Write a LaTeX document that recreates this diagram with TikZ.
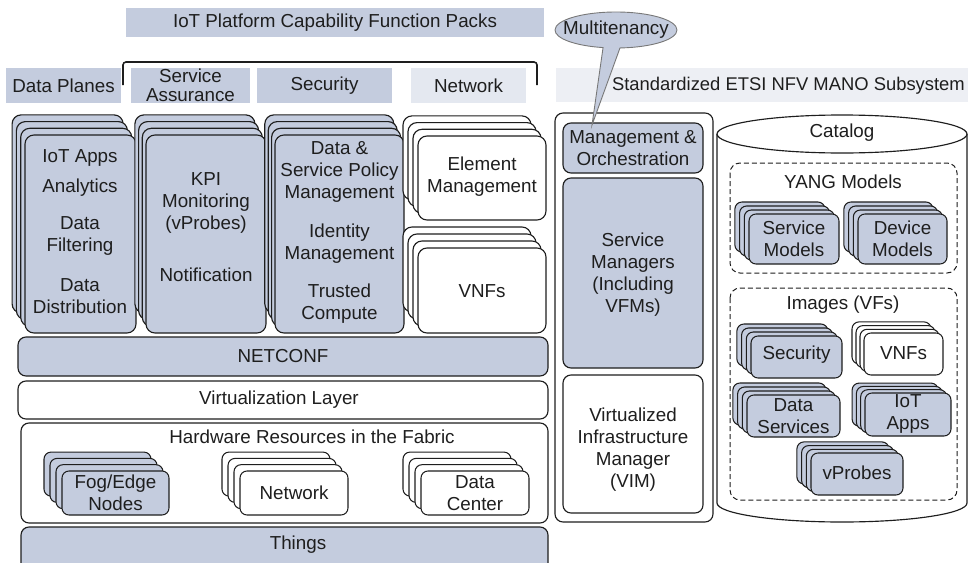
\documentclass[tikz,border=0pt]{standalone}
\usepackage{fontspec}
\setmainfont{Liberation Sans}
\usetikzlibrary{shapes.callouts,shapes.geometric}

\definecolor{pack}{RGB}{196,204,222}
\definecolor{packlight}{RGB}{228,232,240}
\definecolor{manolight}{RGB}{237,239,244}
\definecolor{ink}{RGB}{30,30,30}
\definecolor{calloutline}{RGB}{120,120,120}

\tikzset{
  card/.style={draw=ink, line width=1.15pt, rounded corners=9pt},
  smallcard/.style={draw=ink, line width=1.05pt, rounded corners=7pt},
  layer/.style={draw=ink, line width=1.15pt, rounded corners=8pt},
  dashbox/.style={draw=ink, line width=1pt, dash pattern=on 5pt off 3pt, rounded corners=10pt},
  lbl/.style={font=\fontsize{18.8}{22}\selectfont, align=center, inner sep=0pt, text=ink},
  hdr/.style={lbl, minimum height=35pt, inner sep=0pt},
}

% stack of four cards: style, front card corners x1,y1,x2,y2, step back dx,dy
\newcommand\cardstack[7]{%
  \foreach \k in {3,2,1,0}{%
    \draw[#1] ({#2-\k*#6},{#3-\k*#7}) rectangle ({#4-\k*#6},{#5-\k*#7});
  }%
}

\begin{document}
\begin{tikzpicture}[x=1pt,y=-1pt]
\useasboundingbox (0,0) rectangle (968,562);
\clip (0,0) rectangle (968,562);

% ---------- headings ----------
\node[hdr, fill=pack, minimum width=418pt, minimum height=29pt] (title) at (335,22.5) {IoT Platform Capability Function Packs};

\coordinate (brA) at (123,85);
\coordinate (brB) at (123,62);
\coordinate (brC) at (537,62);
\coordinate (brD) at (537,85);
\draw[line width=1.6pt, rounded corners=3pt, ink] (brA) -- (brB) -- (brC) -- (brD);

\node[hdr, fill=pack, minimum width=115pt] (hdata) at (63.5,85.5) {Data Planes};
\node[hdr, fill=pack, minimum width=119pt] (hsa) at (190.5,85.5) {Service\\[-3pt]Assurance};
\node[hdr, fill=pack, minimum width=135pt] (hsec) at (324.5,85.5) {Security};
\node[hdr, fill=packlight, minimum width=115pt] (hnet) at (468.5,85.5) {Network};
\fill[manolight] (556,68) rectangle (968,102);
\node[lbl, anchor=east, font=\fontsize{18.4}{22}\selectfont] (hmano) at (965,85.5) {Standardized ETSI NFV MANO Subsystem};

% ---------- capability columns ----------
\cardstack{card,fill=pack}{25}{135}{136}{333}{4.3}{6.7}
\node[lbl] (c1a) at (80,158) {IoT Apps};
\node[lbl] (c1b) at (80,188) {Analytics};
\node[lbl] (c1c) at (80,236) {Data\\Filtering};
\node[lbl] (c1d) at (80,296) {Data\\Distribution};

\cardstack{card,fill=pack}{146}{135}{266}{333}{3.7}{6.7}
\node[lbl] (c2a) at (206,203) {KPI\\Monitoring\\(vProbes)};
\node[lbl] (c2b) at (206,275) {Notification};

\cardstack{card,fill=pack}{275}{135}{404}{333}{3.4}{6.7}
\node[lbl] (c3a) at (339.5,172) {Data \&\\Service Policy\\Management};
\node[lbl] (c3b) at (339.5,244) {Identity\\Management};
\node[lbl] (c3c) at (339.5,304) {Trusted\\Compute};

\cardstack{card,fill=white}{418}{136}{546}{220}{5}{6.7}
\node[lbl] (c4a) at (482,177) {Element\\Management};
\cardstack{card,fill=white}{418}{248}{546}{333}{5}{7}
\node[lbl] (c4b) at (482,291) {VNFs};

% ---------- layers ----------
\draw[layer, fill=pack] (18,337) rectangle (548,376);
\node[lbl] (netconf) at (283,356.5) {NETCONF};
\draw[layer, fill=white] (18,381) rectangle (548,419);
\node[lbl] (virt) at (279,400) {Virtualization Layer};
\draw[layer, fill=white] (21,423) rectangle (548,523);
\node[lbl] (hw) at (312,437) {Hardware Resources in the Fabric};
\cardstack{smallcard,fill=pack}{62}{471}{169}{515}{6}{6.3}
\node[lbl] (fog) at (115.5,493) {Fog/Edge\\Nodes};
\cardstack{smallcard,fill=white}{240}{471}{348}{515}{6}{6.3}
\node[lbl] (hwnet) at (294,493) {Network};
\cardstack{smallcard,fill=white}{421}{471}{529}{515}{6}{6.3}
\node[lbl] (dc) at (475,493) {Data\\Center};
\draw[layer, fill=pack] (21,527) rectangle (548,580);
\node[lbl] (things) at (298,545) {Things};

% ---------- MANO ----------
\draw[layer, fill=white] (555,113) rectangle (713,522);
\draw[layer, fill=pack] (563,123) rectangle (703,173);
\node[lbl] (mo) at (633,148) {Management \&\\Orchestration};
\draw[layer, fill=pack] (563,178) rectangle (703,368);
\node[lbl] (sm) at (633,275) {Service\\Managers\\(Including\\VFMs)};
\draw[layer, fill=white] (563,375) rectangle (703,513);
\node[lbl] (vim) at (633,449.5) {Virtualized\\Infrastructure\\Manager\\(VIM)};

% ---------- catalog cylinder ----------
\draw[ink, line width=1.15pt, fill=white]
  (717,134) -- (717,503) arc[start angle=180, end angle=0, x radius=125, y radius=19]
  -- (967,134);
\draw[ink, line width=1.15pt, fill=white] (842,134) ellipse[x radius=125, y radius=19];
\node[lbl] (cat) at (842,133) {Catalog};

\draw[dashbox] (730,163) rectangle (957,273);
\node[lbl] (yang) at (843,182) {YANG Models};
\cardstack{smallcard,fill=pack}{749}{214}{839}{264}{4.7}{4}
\node[lbl] (svcm) at (794,239) {Service\\Models};
\cardstack{smallcard,fill=pack}{858}{214}{947}{264}{4.7}{4}
\node[lbl] (devm) at (902.5,239) {Device\\Models};

\draw[dashbox] (730,288) rectangle (957,500);
\node[lbl] (img) at (843,305) {Images (VFs)};
\cardstack{smallcard,fill=pack}{751}{336}{842}{378}{4.7}{4}
\node[lbl] (isec) at (796.5,355) {Security};
\cardstack{smallcard,fill=white}{864}{333}{943}{375}{4}{3.7}
\node[lbl] (ivnf) at (903.5,353) {VNFs};
\cardstack{smallcard,fill=pack}{747}{395}{840}{437}{4.7}{4}
\node[lbl] (ids) at (793.5,416) {Data\\Services};
\cardstack{smallcard,fill=pack}{865}{393}{951}{436}{4.3}{3.3}
\node[lbl] (iiot) at (908,414) {IoT\\Apps};
\cardstack{smallcard,fill=pack}{811}{453}{903}{495}{4.7}{3.7}
\node[lbl] (ivp) at (857,473) {vProbes};

% ---------- multitenancy callout ----------
\coordinate (mtip) at (592,125);
\node[ellipse callout, callout absolute pointer={(mtip)}, callout pointer arc=16,
      draw=calloutline, line width=0.9pt, fill=pack, minimum width=122pt, minimum height=36pt,
      inner sep=0pt] (mt) at (616,30) {};
\node[lbl] (mttext) at (mt.center) {Multitenancy};
\end{tikzpicture}
\end{document}
